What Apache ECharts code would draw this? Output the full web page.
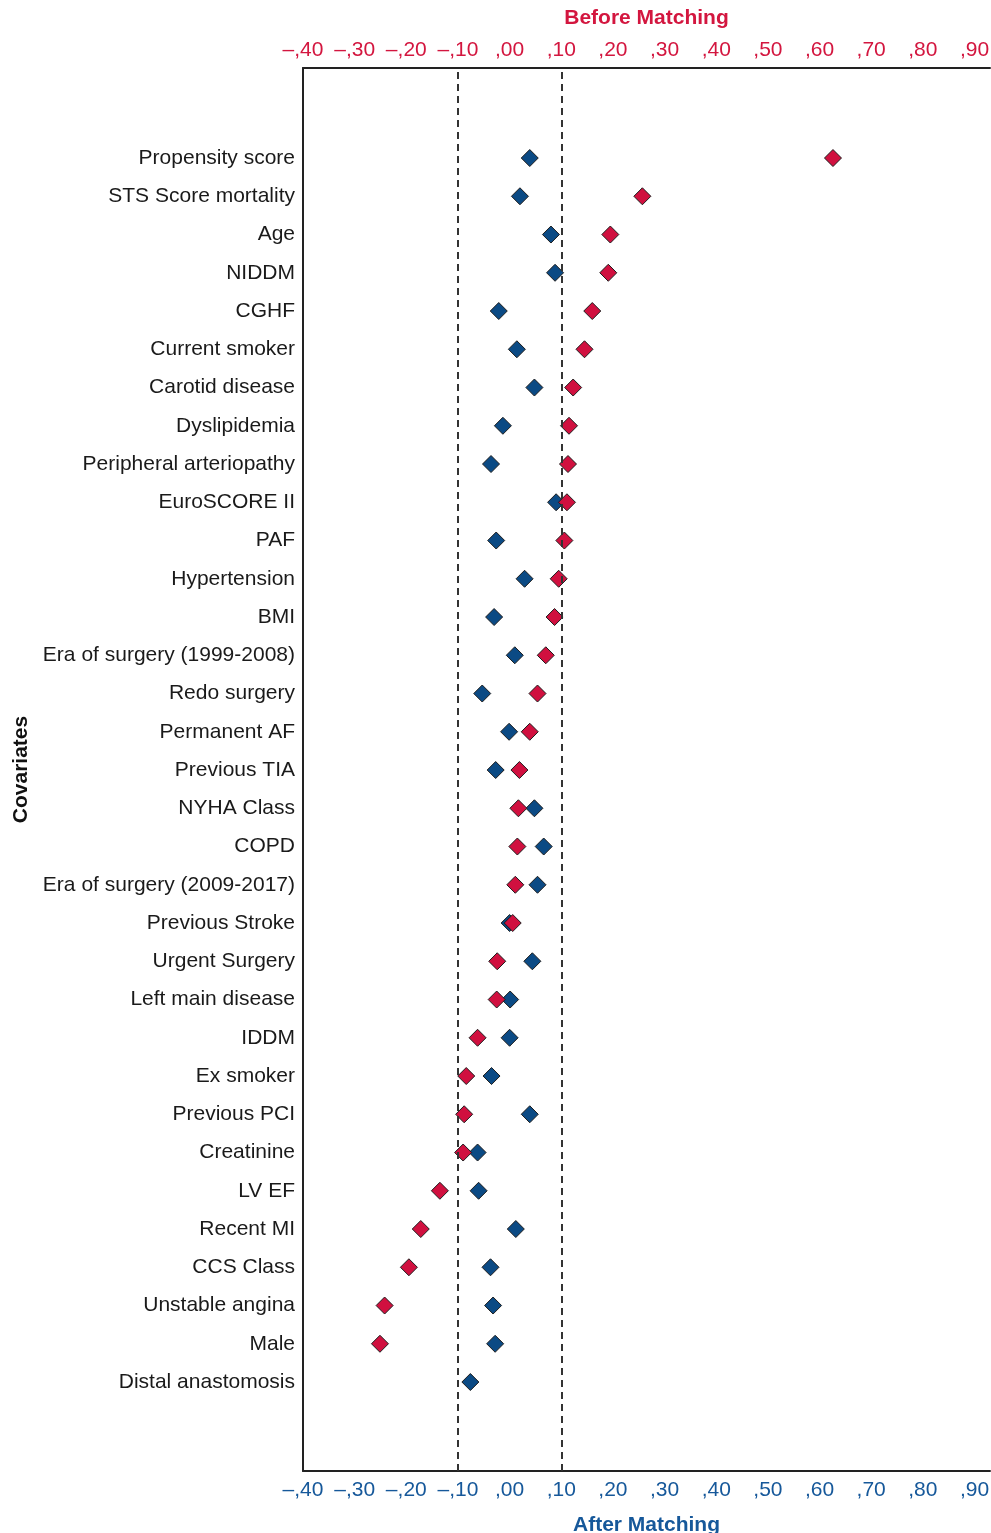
<!DOCTYPE html>
<html>
<head>
<meta charset="utf-8">
<script src="https://cdn.jsdelivr.net/npm/echarts@6/dist/echarts.min.js"></script>
<style>
  html,body{margin:0;padding:0;background:#fff;}
  #main{width:991px;height:1533px;}
</style>
</head>
<body>
<div id="main"></div>
<script>
// covariates, top to bottom
var covariates = ['Propensity score','STS Score mortality','Age','NIDDM','CGHF','Current smoker',
  'Carotid disease','Dyslipidemia','Peripheral arteriopathy','EuroSCORE II','PAF','Hypertension',
  'BMI','Era of surgery (1999-2008)','Redo surgery','Permanent AF','Previous TIA','NYHA Class',
  'COPD','Era of surgery (2009-2017)','Previous Stroke','Urgent Surgery','Left main disease',
  'IDDM','Ex smoker','Previous PCI','Creatinine','LV EF','Recent MI','CCS Class',
  'Unstable angina','Male','Distal anastomosis'];

// standardized differences before matching (red)
var beforeVals = [0.626, 0.257, 0.195, 0.191, 0.160, 0.145, 0.123, 0.115, 0.113, 0.111, 0.106,
  0.095, 0.087, 0.070, 0.054, 0.039, 0.019, 0.017, 0.015, 0.011, 0.006, -0.024, -0.025, -0.062,
  -0.084, -0.088, -0.090, -0.135, -0.172, -0.195, -0.242, -0.251, null];

// standardized differences after matching (blue)
var afterVals = [0.039, 0.020, 0.080, 0.088, -0.021, 0.014, 0.048, -0.013, -0.036, 0.090, -0.026,
  0.029, -0.030, 0.010, -0.053, -0.001, -0.027, 0.048, 0.066, 0.054, 0.000, 0.044, 0.001, 0.000,
  -0.035, 0.039, -0.062, -0.060, 0.012, -0.037, -0.032, -0.028, -0.076];

var refLines = [-0.1, 0.1];
var xMin = -0.4, xMax = 0.93, xStep = 0.1;

var RED = '#d0103f', BLUE = '#0b4a84';
var RED_TXT = '#d3163f', BLUE_TXT = '#16589a';
var FONT = '"Liberation Sans", Arial, Helvetica, sans-serif';

// "–,40" / ",00" / ",90"
function tickFmt(v){
  var r = Math.round(v*100);
  if (Math.abs(v*100 - r) > 0.01 || r % 10 !== 0) return '';
  var a = Math.abs(r);
  return (r < 0 ? '\u2013' : '') + ',' + (a < 10 ? '0' : '') + a;
}

var myChart = echarts.init(document.getElementById('main'));

function xAxisFor(grid, pos, txtColor, name, lblMargin, gap){
  return {
    type:'value', gridIndex:grid, position:pos,
    min:xMin, max:xMax, interval:xStep,
    name:name, nameLocation:'middle', nameGap:gap, nameMoveOverlap:false,
    nameTextStyle:{color:txtColor, fontSize:21, fontWeight:'bold', fontFamily:FONT},
    axisLine:{show:true, onZero:false, lineStyle:{color:'#222', width:2}},
    axisTick:{show:false},
    splitLine:{show:false},
    axisLabel:{show:true, color:txtColor, fontSize:21, fontFamily:FONT, margin:lblMargin,
      showMaxLabel:false, formatter:tickFmt}
  };
}

var option = {
  animation:false,
  backgroundColor:'#fff',
  grid:[
    {left:303, right:1, top:68, bottom:62, containLabel:false, outerBoundsMode:'none'},
    {left:303, right:1, top:138.9, height:1262.25, containLabel:false, outerBoundsMode:'none'}
  ],
  xAxis:[
    xAxisFor(0, 'top', RED_TXT, 'Before Matching', 7, 39),
    xAxisFor(0, 'bottom', BLUE_TXT, 'After Matching', 9, 44),
    {type:'value', gridIndex:1, min:xMin, max:xMax, show:false}
  ],
  yAxis:[
    {
      type:'value', gridIndex:0, min:0, max:1, position:'left',
      name:'Covariates', nameLocation:'middle', nameGap:271, nameRotate:90, nameMoveOverlap:false,
      nameTextStyle:{color:'#111', fontSize:21, fontWeight:'bold', fontFamily:FONT},
      axisLine:{show:true, onZero:false, lineStyle:{color:'#222', width:2}},
      axisTick:{show:false}, axisLabel:{show:false}, splitLine:{show:false}
    },
    {
      type:'category', gridIndex:1, inverse:true, data:covariates, position:'left',
      axisLine:{show:false, onZero:false}, axisTick:{show:false}, splitLine:{show:false},
      axisLabel:{color:'#1a1a1a', fontSize:21, fontFamily:FONT, margin:8}
    }
  ],
  series:[
    {
      // dashed reference lines across the full frame
      type:'line', xAxisIndex:1, yAxisIndex:0, data:[], z:1, silent:true,
      markLine:{
        symbol:'none', silent:true, label:{show:false},
        lineStyle:{type:[7,5], color:'#333', width:2},
        data:refLines.map(function(v){ return {xAxis:v}; })
      }
    },
    {
      name:'After Matching', type:'scatter', xAxisIndex:2, yAxisIndex:1,
      symbol:'diamond', symbolSize:17, z:3,
      itemStyle:{color:BLUE, opacity:1, borderColor:'#1e1e1e', borderWidth:1},
      data:afterVals.map(function(v,i){ return [v, covariates[i]]; })
    },
    {
      name:'Before Matching', type:'scatter', xAxisIndex:2, yAxisIndex:1,
      symbol:'diamond', symbolSize:17, z:4,
      itemStyle:{color:RED, opacity:1, borderColor:'#1e1e1e', borderWidth:1},
      data:beforeVals.map(function(v,i){ return v === null ? null : [v, covariates[i]]; })
        .filter(function(d){ return d !== null; })
    }
  ]
};

myChart.setOption(option);
</script>
</body>
</html>
